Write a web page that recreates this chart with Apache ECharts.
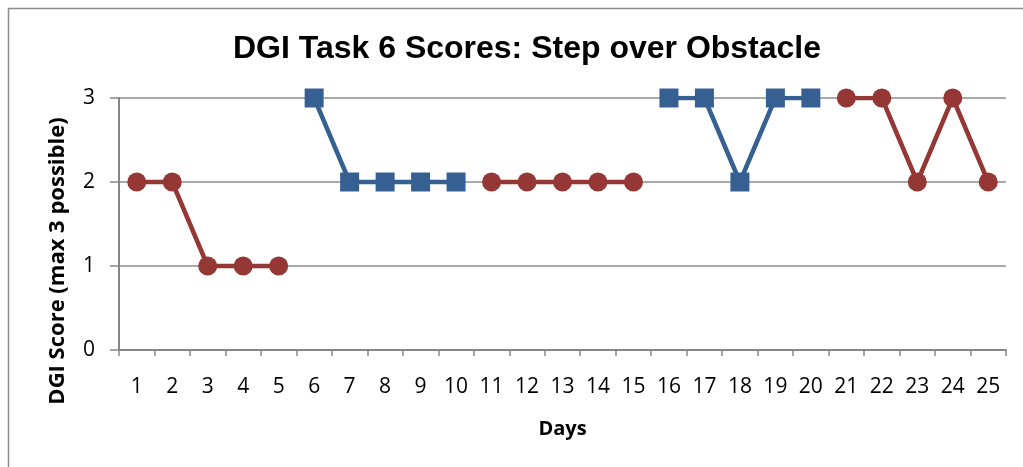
<!DOCTYPE html>
<html><head><meta charset="utf-8">
<script src="https://cdn.jsdelivr.net/npm/echarts@6/dist/echarts.min.js"></script>
<style>html,body{margin:0;padding:0;background:#fff}#c{width:1023px;height:467px}</style>
</head><body><div id="c"></div>
<script>
const days = ['1','2','3','4','5','6','7','8','9','10','11','12','13','14','15','16','17','18','19','20','21','22','23','24','25'];
const redScores = [2,2,1,1,1,null,null,null,null,null,2,2,2,2,2,null,null,null,null,null,3,3,2,3,2];
const blueScores = [null,null,null,null,null,3,2,2,2,2,null,null,null,null,null,3,3,2,3,3,null,null,null,null,null];
const yTicks = [0,1,2,3];
const yTitle = 'DGI Score (max 3 possible)';

const chart = echarts.init(document.getElementById('c'));
chart.setOption({
  animation:false,
  title:{text:'DGI Task 6 Scores: Step over Obstacle',left:522,textAlign:'center',top:28,
    textStyle:{fontFamily:'Liberation Sans',fontWeight:'bold',fontSize:32,color:'#000'}},
  graphic:[
    {type:'rect',shape:{x:8.5,y:8.5,width:1030,height:480},style:{fill:'none',stroke:'#8c8c8c',lineWidth:1.5},silent:true},
    {type:'text',x:58,y:261,rotation:Math.PI/2,style:{text:yTitle,fontFamily:'Open Sans',fontWeight:'bold',fontSize:22,fill:'#000',align:'center',verticalAlign:'middle'},silent:true}
  ],
  grid:{left:119,right:17,top:98,bottom:117},
  xAxis:{type:'category',data:days,boundaryGap:true,
    name:'Days',nameLocation:'middle',nameGap:69,
    nameTextStyle:{fontFamily:'Open Sans',fontWeight:'bold',fontSize:20,color:'#000'},
    axisLine:{lineStyle:{color:'#868686',width:2}},
    axisTick:{show:true,alignWithLabel:false,length:6,lineStyle:{color:'#868686',width:1.5}},
    axisLabel:{fontFamily:'Open Sans',fontSize:21,color:'#000',margin:27,interval:0},
    splitLine:{show:false}},
  yAxis:{type:'value',min:0,max:3,interval:1,
    axisLine:{show:true,lineStyle:{color:'#868686',width:2}},
    axisTick:{show:true,length:9,lineStyle:{color:'#868686',width:1.5}},
    axisLabel:{fontFamily:'Open Sans',fontSize:21,color:'#000',margin:24,
      formatter:v=>yTicks.includes(v)?String(v):''},
    splitLine:{show:true,lineStyle:{color:'#8c8c8c',width:1.5}}},
  series:[
    {type:'line',data:redScores,connectNulls:false,symbol:'circle',symbolSize:19,
      lineStyle:{color:'#953735',width:4.5},itemStyle:{color:'#953735'}},
    {type:'line',data:blueScores,connectNulls:false,symbol:'rect',symbolSize:19,
      lineStyle:{color:'#376092',width:4.5},itemStyle:{color:'#376092'}}
  ]
});
</script></body></html>
